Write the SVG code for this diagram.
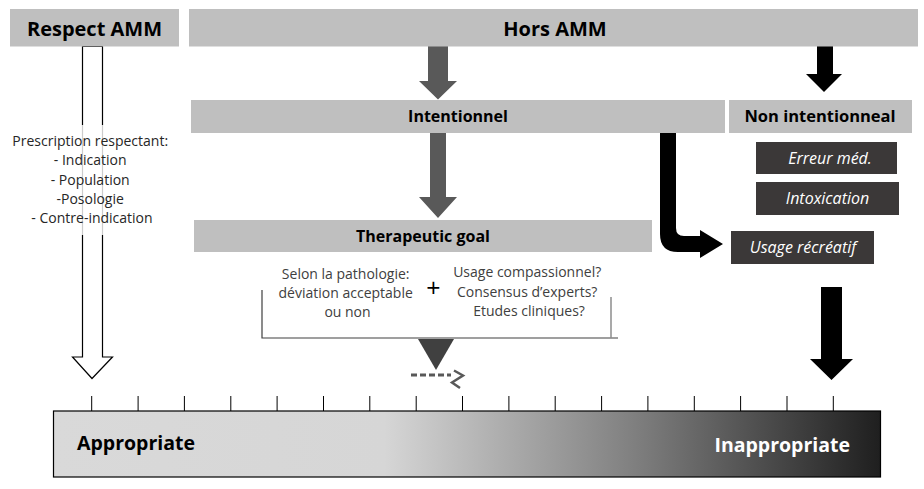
<svg xmlns="http://www.w3.org/2000/svg" width="924" height="489" viewBox="0 0 924 489">
<defs>
<linearGradient id="grad" x1="0" y1="0" x2="1" y2="0">
<stop offset="0" stop-color="#d9d9d9"/>
<stop offset="0.4" stop-color="#d6d6d6"/>
<stop offset="0.7" stop-color="#808080"/>
<stop offset="1" stop-color="#1f1f1f"/>
</linearGradient>
<style>
.hdr{fill:#bfbfbf}
.dark{fill:#3b3838}
.t{font-family:"Open Sans","DejaVu Sans",sans-serif}
.b{font-weight:bold;fill:#000}
.it{font-style:italic;fill:#fff;font-size:16px}
.sm{font-size:14px;fill:#262626}
.sub{font-size:14px;fill:#404040}
.tick{stroke:#000;stroke-width:1}
</style>
</defs>
<rect width="924" height="489" fill="#fff"/>

<g id="connectors">
<path d="M82.5,46.5 V357 H72.5 L92,378.5 L112.5,357 H102.5 V46.5 Z" fill="#fff" stroke="#000" stroke-width="1.2"/>
<rect x="10" y="125" width="170" height="110" fill="#fff" opacity="0.8"/>
<path d="M428,46 V81 H419 L438,99.5 L457,81 H448 V46 Z" fill="#595959"/>
<path d="M430,133 V197 H419 L438,218 L457,197 H446 V133 Z" fill="#595959"/>
<path d="M817,46 V74 H806 L824,92 L842,74 H833 V46 Z" fill="#000"/>
<path d="M660,133 V234 Q660,252 678,252 H700 V258 L723,244 L700,230 V236 H684 Q676,236 676,228 V133 Z" fill="#000"/>
<path d="M821,287 V359 H810 L831.5,380 L853,359 H842 V287 Z" fill="#000"/>
<path d="M262,290 V338 H618" fill="none" stroke="#404040" stroke-width="1.2"/>
<path d="M611,297 V338" fill="none" stroke="#8c8c8c" stroke-width="1.5"/>
<path d="M418,339 H454 L436,370 Z" fill="#404040"/>
<path d="M411,375 H451" fill="none" stroke="#595959" stroke-width="3" stroke-dasharray="6,3"/>
<path d="M454,370.5 L463,375.5 L452,382.5 L460,388" fill="none" stroke="#595959" stroke-width="2.5"/>
</g>

<g id="respect-amm">
<rect class="hdr" x="10" y="9" width="169" height="37.5"/>
<text class="t b" x="94.5" y="35.5" font-size="20" text-anchor="middle">Respect AMM</text>
</g>

<g id="prescription-text">
<text class="t sm" text-anchor="middle">
<tspan x="92" y="146">Prescription respectant:</tspan>
<tspan x="92" y="165">- Indication</tspan>
<tspan x="92" y="184.5">- Population</tspan>
<tspan x="92" y="204">-Posologie</tspan>
<tspan x="92" y="223">- Contre-indication</tspan>
</text>
</g>

<g id="hors-amm">
<rect class="hdr" x="189" y="9" width="729" height="37.5"/>
<text class="t b" x="555" y="36" font-size="20" text-anchor="middle">Hors AMM</text>
</g>

<g id="intentionnel">
<rect class="hdr" x="191" y="100" width="534" height="33"/>
<text class="t b" x="458" y="122" font-size="16" text-anchor="middle">Intentionnel</text>
</g>

<g id="non-intentionneal">
<rect class="hdr" x="729" y="100" width="183" height="33"/>
<text class="t b" x="820" y="122" font-size="16.5" text-anchor="middle">Non intentionneal</text>
</g>

<g id="erreur-med">
<rect class="dark" x="756" y="142" width="141" height="32"/>
<text class="t it" x="830" y="163.5" text-anchor="middle">Erreur méd.</text>
</g>

<g id="intoxication">
<rect class="dark" x="756" y="182" width="143" height="33"/>
<text class="t it" x="827.5" y="204" text-anchor="middle">Intoxication</text>
</g>

<g id="usage-recreatif">
<rect class="dark" x="731" y="231" width="143" height="33"/>
<text class="t it" x="803" y="253" text-anchor="middle">Usage récréatif</text>
</g>

<g id="therapeutic-goal">
<rect class="hdr" x="194" y="220" width="458" height="32"/>
<text class="t b" x="423" y="242" font-size="16" text-anchor="middle">Therapeutic goal</text>
</g>

<g id="pathologie">
<text class="t sub" text-anchor="middle">
<tspan x="347.5" y="279">Selon la pathologie:</tspan>
<tspan x="347.5" y="298">déviation acceptable</tspan>
<tspan x="347.5" y="317">ou non</tspan>
</text>
</g>

<g id="plus">
<text class="t" x="433.5" y="296.5" font-size="25" text-anchor="middle" fill="#000">+</text>
</g>

<g id="evidence">
<text class="t sub" text-anchor="middle" font-size="13.5">
<tspan x="529" y="277">Usage compassionnel?</tspan>
<tspan x="529" y="296.5">Consensus d’experts?</tspan>
<tspan x="529" y="315.5">Etudes cliniques?</tspan>
</text>
</g>

<g id="scale">
<rect x="53.5" y="411" width="827" height="66" fill="url(#grad)" stroke="#000" stroke-width="1.2"/>
<g class="tick">
<line x1="91.7" y1="396" x2="91.7" y2="411"/>
<line x1="138.1" y1="396" x2="138.1" y2="411"/>
<line x1="184.4" y1="396" x2="184.4" y2="411"/>
<line x1="230.8" y1="396" x2="230.8" y2="411"/>
<line x1="277.1" y1="396" x2="277.1" y2="411"/>
<line x1="323.5" y1="396" x2="323.5" y2="411"/>
<line x1="369.8" y1="396" x2="369.8" y2="411"/>
<line x1="416.2" y1="396" x2="416.2" y2="411"/>
<line x1="462.5" y1="396" x2="462.5" y2="411"/>
<line x1="508.9" y1="396" x2="508.9" y2="411"/>
<line x1="555.2" y1="396" x2="555.2" y2="411"/>
<line x1="601.6" y1="396" x2="601.6" y2="411"/>
<line x1="647.9" y1="396" x2="647.9" y2="411"/>
<line x1="694.3" y1="396" x2="694.3" y2="411"/>
<line x1="740.6" y1="396" x2="740.6" y2="411"/>
<line x1="787.0" y1="396" x2="787.0" y2="411"/>
<line x1="833.3" y1="396" x2="833.3" y2="411"/>
</g>
<text class="t b" x="77" y="450" font-size="19.5">Appropriate</text>
<text class="t" x="850" y="452" font-size="19.5" font-weight="bold" fill="#fff" text-anchor="end">Inappropriate</text>
</g>
</svg>
